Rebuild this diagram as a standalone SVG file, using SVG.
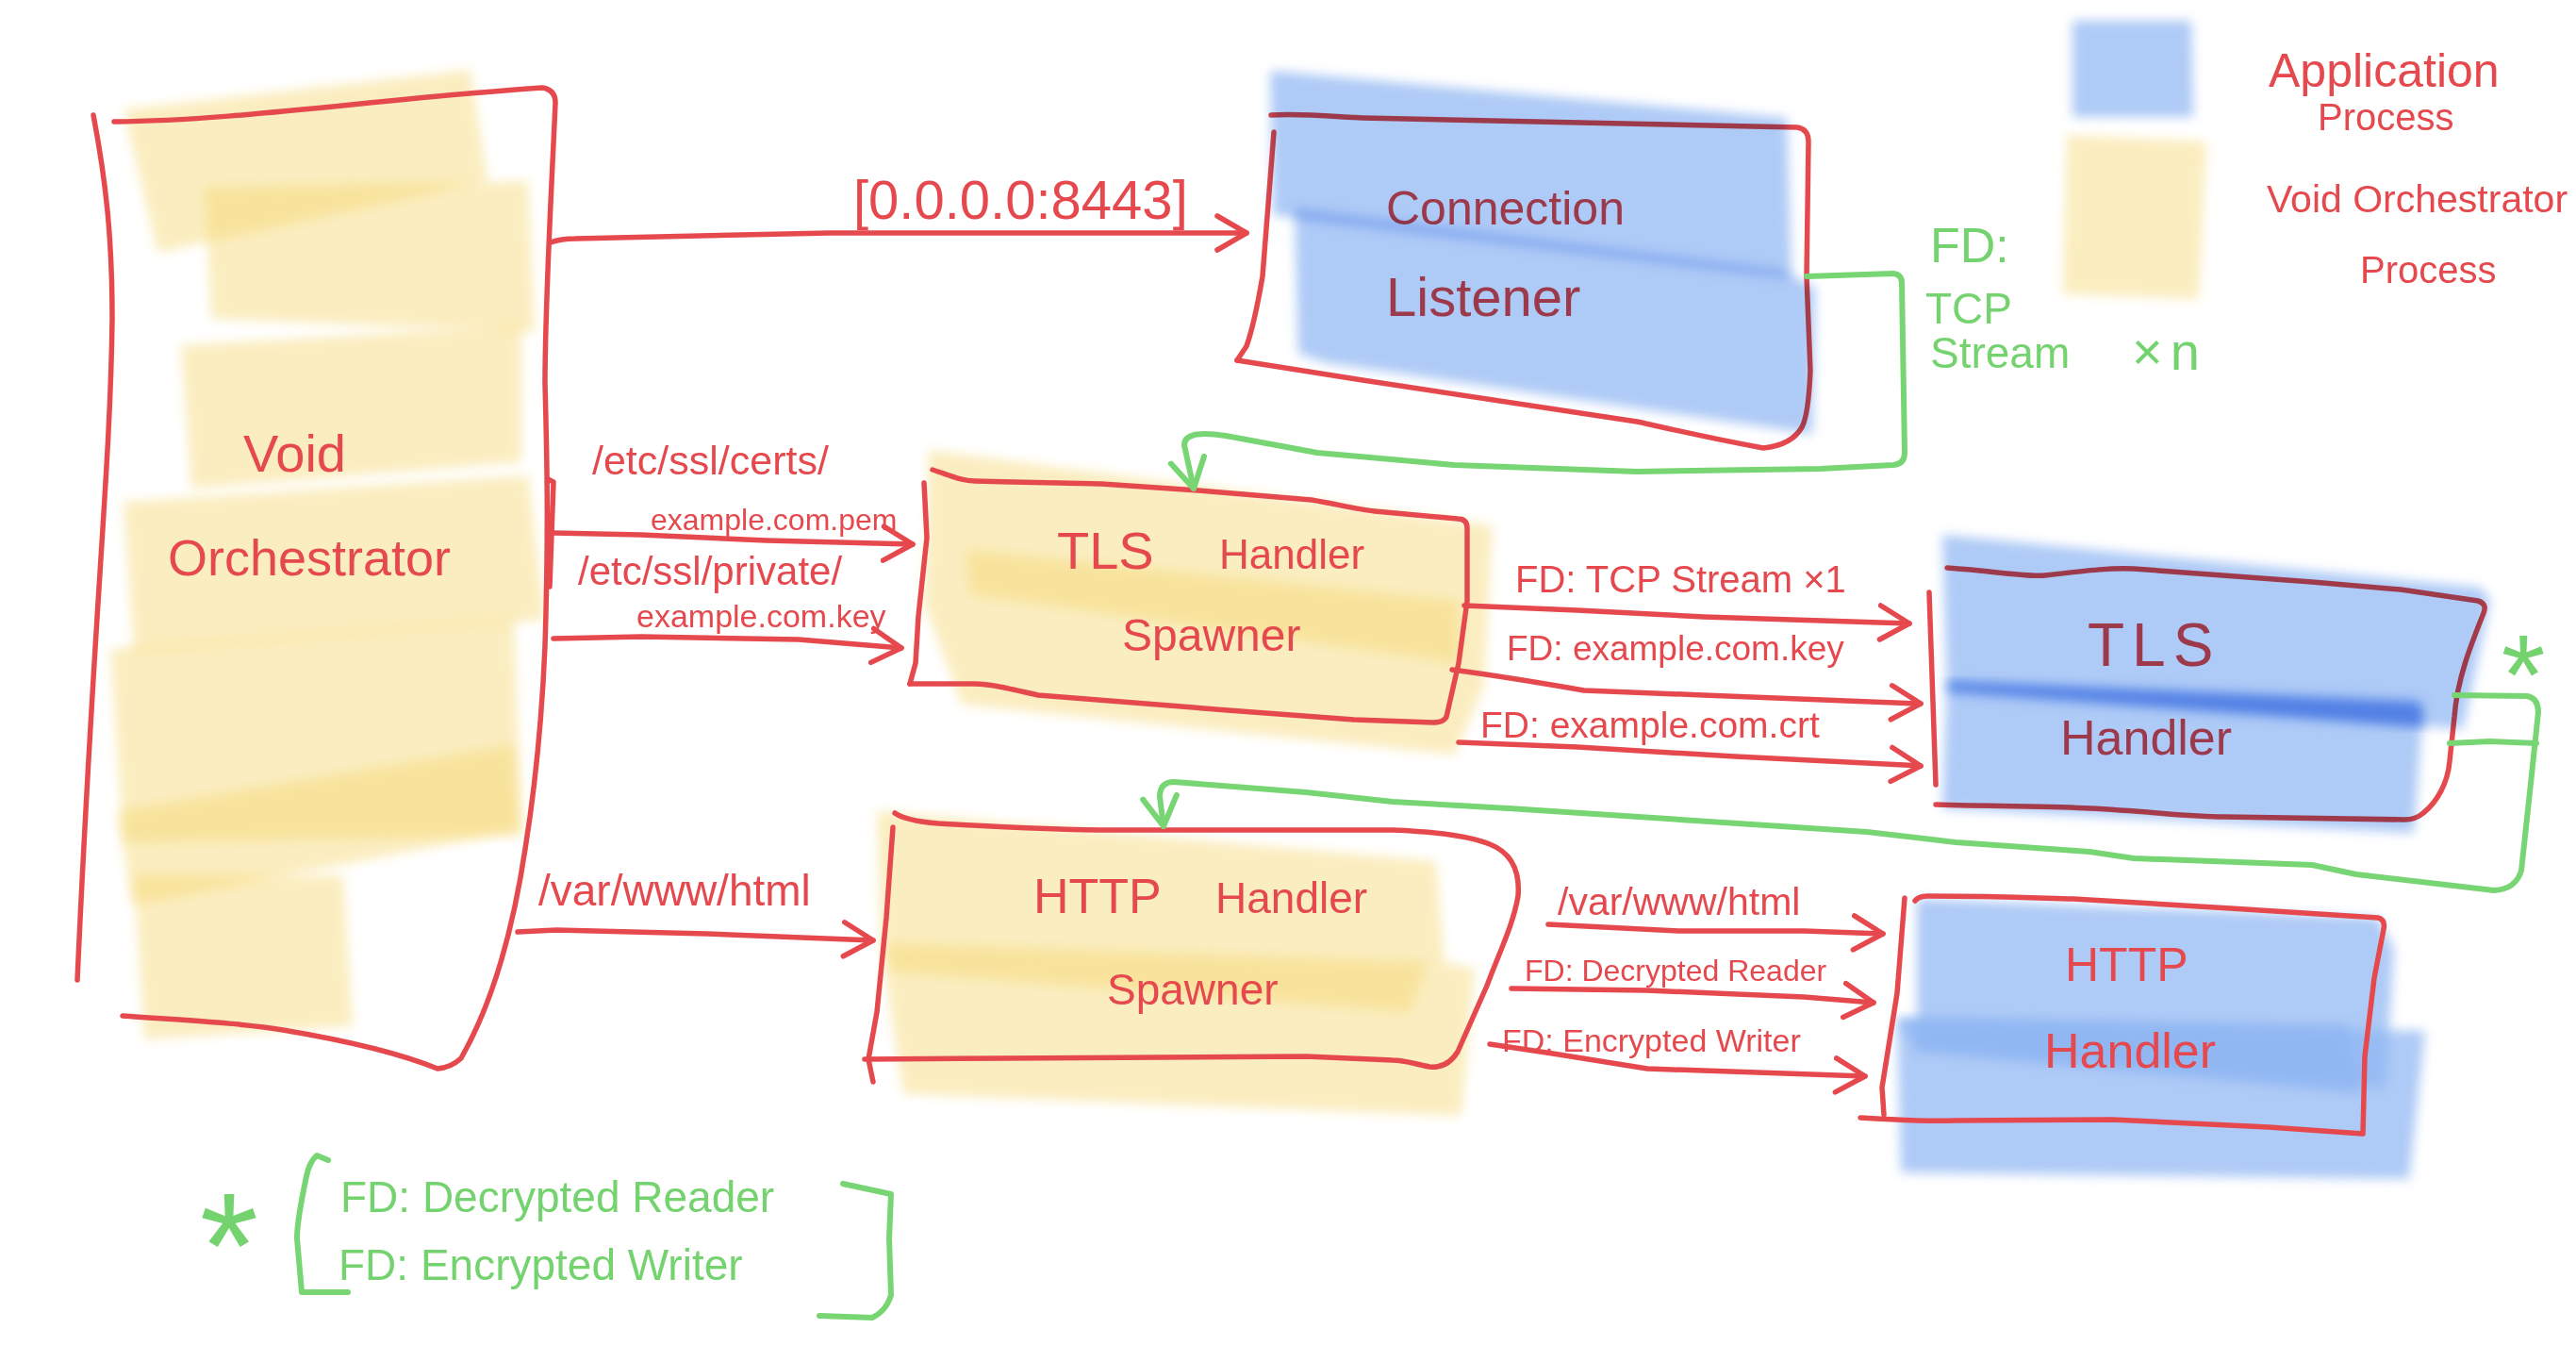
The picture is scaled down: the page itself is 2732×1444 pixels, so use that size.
<svg xmlns="http://www.w3.org/2000/svg" width="2732" height="1444" viewBox="0 0 2732 1444">
<defs>
<style>
.t{font-family:"Liberation Sans",Arial,sans-serif}
.r{fill:#e5484d}
.g{fill:#74d36f}
.ln{fill:none;stroke:#e5484d;stroke-width:5.5;stroke-linecap:round;stroke-linejoin:round}
.gl{fill:none;stroke:#78d573;stroke-width:6;stroke-linecap:round;stroke-linejoin:round}
.y{fill:#f6d873;opacity:0.45;filter:url(#soft)}
.b{fill:#8fb6f3;opacity:0.72;filter:url(#soft)}
.bm{fill:#8fb6f3;opacity:0.72;filter:url(#soft);mix-blend-mode:multiply}
</style>
<filter id="soft" x="-10%" y="-10%" width="120%" height="120%"><feGaussianBlur stdDeviation="6"/></filter>
<marker id="ar" viewBox="0 0 40 44" refX="34" refY="22" markerWidth="40" markerHeight="44" markerUnits="userSpaceOnUse" orient="auto"><path d="M3,4 L34,22 L3,40" fill="none" stroke="#e5484d" stroke-width="5.5" stroke-linecap="round" stroke-linejoin="round"/></marker>
<marker id="ag" viewBox="0 0 40 44" refX="34" refY="22" markerWidth="40" markerHeight="44" markerUnits="userSpaceOnUse" orient="auto"><path d="M3,4 L34,22 L3,40" fill="none" stroke="#78d573" stroke-width="6" stroke-linecap="round" stroke-linejoin="round"/></marker>
</defs>
<rect width="2732" height="1444" fill="#ffffff"/>

<g id="legend">
<path class="b" d="M2198,22 L2324,22 L2326,124 L2198,124 Z"/>
<path class="y" d="M2192,143 L2340,150 L2332,317 L2188,312 Z"/>
<text class="t r" x="2406" y="92" font-size="50">Application</text>
<text class="t r" x="2458" y="138" font-size="40">Process</text>
<text class="t r" x="2404" y="225" font-size="41">Void Orchestrator</text>
<text class="t r" x="2503" y="300" font-size="40">Process</text>
</g>

<g id="void-orchestrator">
<path class="y" d="M131,116 L499,74 L517,192 L167,268 Z"/>
<path class="y" d="M217,199 L560,192 L567,352 L224,338 Z"/>
<path class="y" d="M192,366 L553,345 L553,490 L203,518 Z"/>
<path class="y" d="M131,532 L560,504 L578,657 L142,692 Z"/>
<path class="y" d="M117,688 L545,655 L553,886 L131,893 Z"/>
<path class="y" d="M125,860 L545,790 L552,880 L140,960 Z"/>
<path class="y" d="M142,928 L364,928 L374,1088 L153,1102 Z"/>
<path class="ln" d="M99,122 C112,190 119,250 119,338 C117,500 100,640 82,1039"/>
<path class="ln" d="M121,129 C250,128 400,105 575,93 Q589,95 589,109 C585,200 578,320 578,407 C580,480 582,560 578,685 C574,780 565,850 557,900 C548,960 530,1050 489,1122 Q478,1132 464,1133 C420,1115 360,1102 300,1092 C260,1085 200,1082 130,1077"/>
<path class="ln" d="M581,508 L587,511 L583,622"/>
<text class="t r" x="258" y="500" font-size="56">Void</text>
<text class="t r" x="178" y="610" font-size="54">Orchestrator</text>
</g>

<g id="connection-listener">
<path class="ln" d="M1348,122 C1380,120 1420,124 1445,125 L1906,135 Q1918,137 1918,150 L1916,293 L1920,393 Q1918,440 1911,453 Q1900,472 1870,475 C1800,462 1760,452 1736,447 L1445,403 L1312,382"/>
<path class="ln" d="M1351,140 L1339,293 Q1330,345 1322,367 L1312,382"/>
<text class="t r" x="1470" y="238" font-size="50">Connection</text>
<text class="t r" x="1470" y="335" font-size="58">Listener</text>
<path class="bm" d="M1347,75 L1895,125 L1900,295 L1350,228 Z"/>
<path class="bm" d="M1373,222 L1890,287 L1925,305 L1922,460 L1408,385 L1377,375 Z"/>
</g>

<g id="tls-handler-spawner">
<path class="y" d="M985,477 L1583,557 L1574,727 L1543,800 L1020,747 L980,640 Z"/>
<path class="y" d="M1025,583 L1547,637 L1547,703 L1029,630 Z"/>
<path class="ln" d="M989,498 C1010,505 1020,510 1034,510 C1100,512 1150,512 1168,513 C1230,517 1260,519 1271,520 L1391,530 C1420,535 1440,540 1458,542 L1546,550 Q1556,550 1556,560 L1556,637 L1547,703 L1534,760 Q1531,766 1520,766 L1436,763 L1302,753 L1101,737 C1070,730 1050,725 1034,725 L965,725"/>
<path class="ln" d="M980,512 L983,570 L974,653 L971,703 L965,725"/>
<text class="t r" y="603"><tspan x="1121" font-size="56">TLS</tspan><tspan x="1293" font-size="44">Handler</tspan></text>
<text class="t r" x="1190" y="690" font-size="48">Spawner</text>
</g>

<g id="tls-handler">
<path class="ln" d="M2065,602 C2120,606 2150,612 2169,610 C2220,604 2240,602 2263,603 L2452,617 L2546,625 L2628,637 Q2638,640 2634,650 C2620,685 2606,720 2603,760 L2598,807 C2596,830 2585,850 2570,862 Q2562,869 2550,869 L2358,866 C2320,866 2280,860 2216,857 C2180,855 2120,855 2053,853"/>
<path class="ln" d="M2046,628 L2053,832"/>
<text class="t r" x="2214" y="706" font-size="64" letter-spacing="8">TLS</text>
<text class="t r" x="2185" y="800" font-size="52">Handler</text>
<path class="bm" d="M2060,567 L2631,623 L2641,637 L2612,773 L2065,730 Z"/>
<path class="bm" d="M2065,723 L2570,747 L2560,883 L2060,857 Z"/>
<path class="bm" d="M2065,722 L2565,742 L2572,772 L2065,735 Z"/>
</g>

<g id="http-handler-spawner">
<path class="y" d="M930,860 L1523,913 L1532,1020 L1564,1027 L1550,1183 L958,1160 L935,1007 Z"/>
<path class="y" d="M940,1000 L1514,1020 L1495,1073 L944,1030 Z"/>
<path class="ln" d="M949,862 Q960,870 995,873 C1080,878 1150,880 1183,880 L1477,880 C1530,882 1560,887 1580,895 C1605,905 1612,925 1610,950 C1605,980 1590,1010 1577,1045 L1546,1115 Q1535,1133 1516,1131 C1500,1128 1490,1124 1477,1124 L1385,1120 L1064,1122 L917,1123"/>
<path class="ln" d="M947,877 L940,973 L930,1073 L921,1123 L926,1147"/>
<text class="t r" y="968"><tspan x="1096" font-size="52">HTTP</tspan><tspan x="1289" font-size="46">Handler</tspan></text>
<text class="t r" x="1174" y="1065" font-size="46">Spawner</text>
</g>

<g id="http-handler">
<path class="b" d="M2033,953 L2522,973 L2539,1007 L2530,1153 L2033,1113 Z"/>
<path class="b" d="M2012,1080 L2572,1093 L2555,1250 L2016,1243 Z"/>
<path class="b" d="M2012,1080 L2489,1087 L2506,1160 L2033,1113 Z"/>
<path class="ln" d="M2031,955 Q2035,950 2045,950 C2120,950 2160,952 2199,953 L2365,963 L2522,973 Q2530,975 2528,985 L2518,1037 L2508,1120 L2506,1202 L2406,1195 L2240,1187 L2074,1188 C2050,1189 2020,1188 1973,1185"/>
<path class="ln" d="M2020,952 L2012,1053 L1996,1153 L1998,1182"/>
<text class="t r" x="2190" y="1040" font-size="50">HTTP</text>
<text class="t r" x="2168" y="1132" font-size="52">Handler</text>
</g>

<g id="connectors">
<path class="ln" marker-end="url(#ar)" d="M584,257 Q595,253 610,253 L880,247 L1322,247"/>
<text class="t r" x="905" y="232" font-size="58">[0.0.0.0:8443]</text>

<path class="ln" marker-end="url(#ar)" d="M587,565 L680,567 L813,573 L968,577"/>
<text class="t r" x="628" y="503" font-size="43">/etc/ssl/certs/</text>
<text class="t r" x="690" y="562" font-size="32">example.com.pem</text>
<path class="ln" marker-end="url(#ar)" d="M587,677 L680,675 L847,678 L956,687"/>
<text class="t r" x="613" y="620" font-size="42">/etc/ssl/private/</text>
<text class="t r" x="675" y="665" font-size="34">example.com.key</text>

<path class="ln" marker-end="url(#ar)" d="M549,988 L590,986 L750,990 L926,997"/>
<text class="t r" x="571" y="960" font-size="46">/var/www/html</text>

<path class="gl" marker-end="url(#ag)" d="M1916,293 L2008,290 Q2017,291 2017,300 L2020,480 Q2020,492 2008,493 L1930,497 L1736,500 L1542,493 L1397,480 L1300,462 Q1256,455 1256,472 L1266,518"/>
<text class="t g" x="2047" y="278" font-size="52">FD:</text>
<text class="t g" x="2042" y="343" font-size="46">TCP</text>
<text class="t g" x="2047" y="390" font-size="46">Stream</text>
<text class="t g" x="2261" y="392" font-size="56" letter-spacing="8">×n</text>

<path class="ln" marker-end="url(#ar)" d="M1553,642 L1673,647 L1807,654 L2025,661"/>
<text class="t r" x="1607" y="628" font-size="40">FD: TCP Stream ×1</text>
<path class="ln" marker-end="url(#ar)" d="M1540,710 Q1600,718 1680,732 L1807,737 L2037,746"/>
<text class="t r" x="1598" y="700" font-size="37">FD: example.com.key</text>
<path class="ln" marker-end="url(#ar)" d="M1547,787 L1673,792 L1840,802 L2037,812"/>
<text class="t r" x="1570" y="782" font-size="39">FD: example.com.crt</text>

<path class="gl" marker-end="url(#ag)" d="M2603,737 L2680,738 Q2692,740 2692,755 L2683,840 L2674,923 Q2668,943 2645,944 L2499,927 L2452,917 L2263,910 L2216,903 L2074,893 L1980,882 L1600,857 L1477,850 L1385,840 L1245,829 Q1230,829 1230,845 L1234,876"/>
<path class="gl" d="M2598,788 L2641,786 L2690,788"/>
<text class="t g" x="2676" y="757" font-size="120" text-anchor="middle">*</text>

<path class="ln" marker-end="url(#ar)" d="M1642,980 L1780,987 L1913,987 L1997,990"/>
<text class="t r" x="1652" y="970" font-size="41">/var/www/html</text>
<path class="ln" marker-end="url(#ar)" d="M1603,1048 L1747,1050 L1913,1057 L1987,1063"/>
<text class="t r" x="1617" y="1040" font-size="32">FD: Decrypted Reader</text>
<path class="ln" marker-end="url(#ar)" d="M1580,1107 L1647,1117 L1747,1133 L1978,1141"/>
<text class="t r" x="1593" y="1115" font-size="34">FD: Encrypted Writer</text>
</g>

<g id="fd-legend">
<text class="t g" x="243" y="1376" font-size="160" text-anchor="middle">*</text>
<path class="gl" d="M348,1230 L336,1225 Q328,1232 325,1247 C318,1280 315,1300 315,1313 L320,1370 L333,1370 L369,1370"/>
<text class="t g" x="361" y="1285" font-size="46">FD: Decrypted Reader</text>
<text class="t g" x="359" y="1357" font-size="46">FD: Encrypted Writer</text>
<path class="gl" d="M894,1255 L945,1266 L943,1313 L945,1373 Q940,1390 925,1397 L869,1395"/>
</g>
</svg>
